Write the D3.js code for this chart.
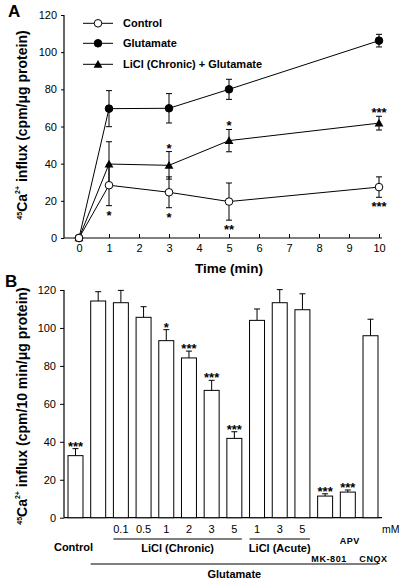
<!DOCTYPE html>
<html><head><meta charset="utf-8">
<script src="https://cdn.jsdelivr.net/npm/d3@7"></script>
<style>
html,body{margin:0;padding:0;background:#fff;}
svg{display:block;font-family:"Liberation Sans",Arial,Helvetica,sans-serif;}
</style></head>
<body>
<script>
// ---------- Panel A data ----------
const times = [0, 1, 3, 5, 10];
const timeTicks = [0,1,2,3,4,5,6,7,8,9,10];
const controlMean = [0, 28.4, 24.6, 19.6, 27.4];
const controlErr  = [0, 11, 8.3, 10, 5.5];
const gluMean     = [0, 69.6, 69.8, 80, 106.2];
const gluErr      = [0, 9.7, 7.9, 5.4, 3.4];
const liclMean    = [0, 39.8, 39.1, 52.4, 61.8];
const liclErr     = [0, 12, 7.4, 6, 3.7];
const controlSig  = ["", "*", "*", "**", "***"];   // shown below
const liclSig     = ["", "", "*", "*", "***"];     // shown above
const seriesNames = ["Control", "Glutamate", "LiCl (Chronic) + Glutamate"];
const yTicksA = [0, 20, 40, 60, 80, 100, 120];

// ---------- Panel B data ----------
const barKeys = ["Control","Glutamate","C0.1","C0.5","C1","C2","C3","C5","A1","A3","A5","MK-801","APV","CNQX"];
const barTickLabels = ["","","0.1","0.5","1","2","3","5","1","3","5","","",""];
const barMeans = [32.7, 114.2, 113.3, 105.6, 93.3, 84.2, 67.1, 41.8, 104, 113.3, 109.6, 11.4, 13.5, 95.9];
const barErr   = [3.7, 4.9, 6.5, 5.6, 5.8, 3.6, 5.3, 3.5, 6, 6.9, 8.4, 1.2, 1.1, 8.7];
const barSig   = ["***","","","","*","***","***","***","","","","***","***",""];
const yTicksB = [0, 20, 40, 60, 80, 100, 120];

const W = 400, H = 585;
const svg = d3.select("body").append("svg").attr("width", W).attr("height", H);
const FONT = "Liberation Sans, Arial, Helvetica, sans-serif";
const STAR = 13;

// ================= Panel A =================
const xA = d3.scaleLinear().domain([0, 10]).range([79, 379]);
const yA = d3.scaleLinear().domain([0, 120]).range([238, 15]);
const gA = svg.append("g");

gA.append("text").attr("x", 8).attr("y", 17).attr("font-size", 17).attr("font-weight", "bold").text("A");

const axLA = gA.append("g").attr("transform", "translate(64,0)")
  .call(d3.axisLeft(yA).tickValues(yTicksA).tickSize(3).tickPadding(4).tickSizeOuter(0));
axLA.select(".domain").remove();
gA.append("line").attr("x1", 64).attr("x2", 64).attr("y1", yA(120)).attr("y2", yA(0)).attr("stroke", "#000").attr("stroke-width", 1.2);
const axBA = gA.append("g").attr("transform", `translate(0,${yA(0)})`)
  .call(d3.axisBottom(xA).tickValues(timeTicks).tickSizeInner(-4).tickSizeOuter(0).tickPadding(6));
axBA.select(".domain").remove();
gA.append("line").attr("x1", 64).attr("x2", 382).attr("y1", yA(0)).attr("y2", yA(0)).attr("stroke", "#000").attr("stroke-width", 1.2);
[axLA, axBA].forEach(a => a.selectAll("text").attr("font-size", 11).attr("font-family", FONT).attr("fill", "#000"));

gA.append("text").attr("x", 229).attr("y", 273).attr("text-anchor", "middle")
  .attr("font-size", 13.5).attr("font-weight", "bold").text("Time (min)");

function yLabel(g, cx, cy, tail) {
  const t = g.append("text").attr("transform", `translate(${cx},${cy}) rotate(-90)`)
    .attr("text-anchor", "middle").attr("font-size", 14).attr("font-weight", "bold");
  t.append("tspan").attr("font-size", 7).attr("dy", -5).text("45");
  t.append("tspan").attr("dy", 5).text("Ca");
  t.append("tspan").attr("font-size", 7).attr("dy", -7).text("2+");
  t.append("tspan").attr("dy", 7).text(" influx " + tail);
}
yLabel(gA, 27, 125, "(cpm/\u03bcg protein)");

const seriesA = [
  {name: seriesNames[0], mean: controlMean, err: controlErr, marker: "open"},
  {name: seriesNames[1], mean: gluMean, err: gluErr, marker: "filled"},
  {name: seriesNames[2], mean: liclMean, err: liclErr, marker: "tri"}
];
const lineGen = d3.line().x(d => xA(d[0])).y(d => yA(d[1]));
const triSym = d3.symbol().type(d3.symbolTriangle).size(34);

function drawMarker(g, type, x, y) {
  if (type === "tri") {
    g.append("path").attr("d", triSym()).attr("transform", `translate(${x},${y + 0.8})`).attr("fill", "#000");
  } else {
    g.append("circle").attr("cx", x).attr("cy", y).attr("r", 3.8)
      .attr("fill", type === "open" ? "#fff" : "#000").attr("stroke", "#000").attr("stroke-width", 1);
  }
}

[seriesA[1], seriesA[2], seriesA[0]].forEach(s => {
  const pts = times.map((t, i) => [t, s.mean[i]]);
  gA.append("path").attr("d", lineGen(pts)).attr("fill", "none").attr("stroke", "#000").attr("stroke-width", 1);
  times.forEach((t, i) => {
    if (s.err[i] > 0) {
      const x = xA(t), y1 = yA(s.mean[i] + s.err[i]), y2 = yA(s.mean[i] - s.err[i]);
      gA.append("line").attr("x1", x).attr("x2", x).attr("y1", y1).attr("y2", y2).attr("stroke", "#000").attr("stroke-width", 1);
      [y1, y2].forEach(yy => gA.append("line").attr("x1", x - 3).attr("x2", x + 3).attr("y1", yy).attr("y2", yy).attr("stroke", "#000").attr("stroke-width", 1));
    }
  });
  times.forEach((t, i) => drawMarker(gA, s.marker, xA(t), yA(s.mean[i])));
});
times.forEach((t, i) => {
  if (liclSig[i]) gA.append("text").attr("x", xA(t)).attr("y", yA(liclMean[i] + liclErr[i]) + 1)
    .attr("text-anchor", "middle").attr("font-size", STAR).attr("font-weight", "bold").text(liclSig[i]);
  if (controlSig[i]) gA.append("text").attr("x", xA(t)).attr("y", yA(controlMean[i] - controlErr[i]) + 14)
    .attr("text-anchor", "middle").attr("font-size", STAR).attr("font-weight", "bold").text(controlSig[i]);
});
const legY = [23.3, 43.3, 64.3];
seriesA.forEach((s, i) => {
  gA.append("line").attr("x1", 83).attr("x2", 113).attr("y1", legY[i]).attr("y2", legY[i]).attr("stroke", "#000").attr("stroke-width", 1);
  drawMarker(gA, s.marker, 98, legY[i]);
  gA.append("text").attr("x", 123).attr("y", legY[i] + 4).attr("font-size", 11).attr("font-weight", "bold").text(s.name);
});

// ================= Panel B =================
const xB = d3.scaleBand().domain(barKeys).range([64.15, 381.85]).paddingInner(0.34).paddingOuter(0.17);
const yB = d3.scaleLinear().domain([0, 120]).range([517.7, 290]);
const gB = svg.append("g");
gB.append("text").attr("x", 5).attr("y", 287).attr("font-size", 17).attr("font-weight", "bold").text("B");

const axLB = gB.append("g").attr("transform", "translate(64,0)")
  .call(d3.axisLeft(yB).tickValues(yTicksB).tickSize(4).tickPadding(4).tickSizeOuter(0));
axLB.select(".domain").remove();
axLB.selectAll("text").attr("font-size", 11).attr("font-family", FONT).attr("fill", "#000");
gB.append("line").attr("x1", 64).attr("x2", 64).attr("y1", yB(120)).attr("y2", yB(0)).attr("stroke", "#000").attr("stroke-width", 1.2);
gB.append("line").attr("x1", 64).attr("x2", 382).attr("y1", yB(0)).attr("y2", yB(0)).attr("stroke", "#000").attr("stroke-width", 1.2);

yLabel(gB, 27, 406, "(cpm/10 min/\u03bcg protein)");

barKeys.forEach((k, i) => {
  const x = xB(k), w = xB.bandwidth(), cx = x + w / 2;
  const top = yB(barMeans[i] + barErr[i]);
  gB.append("line").attr("x1", cx).attr("x2", cx).attr("y1", top).attr("y2", yB(barMeans[i])).attr("stroke", "#000").attr("stroke-width", 1);
  gB.append("line").attr("x1", cx - 3).attr("x2", cx + 3).attr("y1", top).attr("y2", top).attr("stroke", "#000").attr("stroke-width", 1);
  gB.append("rect").attr("x", x).attr("y", yB(barMeans[i])).attr("width", w).attr("height", yB(0) - yB(barMeans[i]))
    .attr("fill", "#fff").attr("stroke", "#000").attr("stroke-width", 1);
  if (barSig[i]) gB.append("text").attr("x", cx).attr("y", top + 2).attr("text-anchor", "middle")
    .attr("font-size", STAR).attr("font-weight", "bold").text(barSig[i]);
  if (barTickLabels[i]) gB.append("text").attr("x", cx).attr("y", 533).attr("text-anchor", "middle")
    .attr("font-size", 11).text(barTickLabels[i]);
});
gB.append("text").attr("x", 382).attr("y", 533).attr("font-size", 10.5).text("mM");

const cxB = k => xB(k) + xB.bandwidth() / 2;
function groupLine(a, b, y) {
  gB.append("line").attr("x1", xB(a)).attr("x2", xB(b) + xB.bandwidth()).attr("y1", y).attr("y2", y).attr("stroke", "#000").attr("stroke-width", 1);
}
groupLine("C0.1", "C5", 539);
groupLine("A1", "A5", 539);
groupLine("Glutamate", "CNQX", 564);
const bold = (x, y, txt, fs) => gB.append("text").attr("x", x).attr("y", y).attr("text-anchor", "middle")
  .attr("font-size", fs).attr("font-weight", "bold").text(txt);
bold((xB("C0.1") + xB("C5") + xB.bandwidth()) / 2, 552, "LiCl (Chronic)", 11);
bold((xB("A1") + xB("A5") + xB.bandwidth()) / 2, 552, "LiCl (Acute)", 11);
bold(cxB("Control") - 2, 551, "Control", 11);
bold((xB("Glutamate") + xB("CNQX") + xB.bandwidth()) / 2, 578, "Glutamate", 11);
bold(cxB("MK-801") + 4, 562, "MK-801", 9).attr("letter-spacing", 0.6);
bold(cxB("APV") + 2, 544, "APV", 9).attr("letter-spacing", 0.6);
bold(cxB("CNQX") + 3, 562, "CNQX", 9).attr("letter-spacing", 0.6);
</script>
</body></html>
